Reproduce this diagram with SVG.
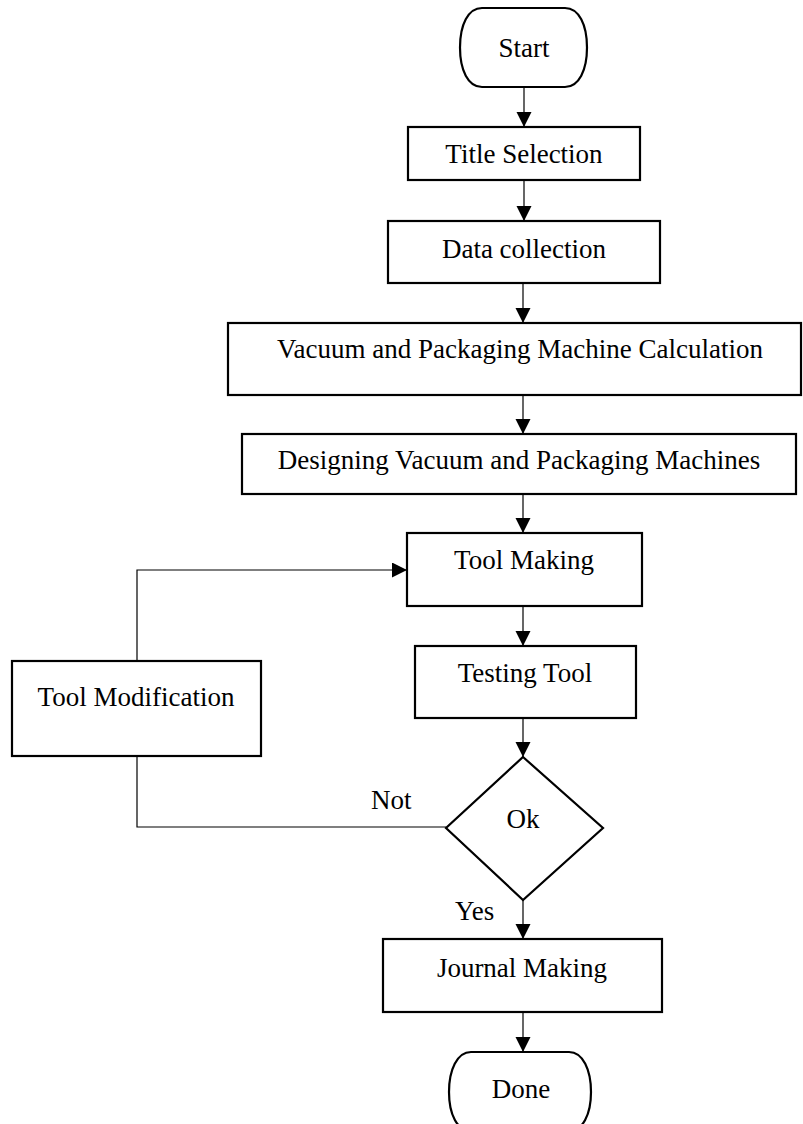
<svg xmlns="http://www.w3.org/2000/svg" width="803" height="1124" viewBox="0 0 803 1124">
<style>
.box{fill:#fff;stroke:#000;stroke-width:2.2}
.ln{fill:none;stroke:#000;stroke-width:1.2}
text{font-family:"Liberation Serif","Times New Roman",serif;font-size:27px;fill:#000;text-anchor:middle}
.lbl{text-anchor:start}
</style>
<defs>
<marker id="ah" markerUnits="userSpaceOnUse" markerWidth="16" markerHeight="16" refX="15" refY="7.5" orient="auto">
<path d="M0,0 L15,7.5 L0,15 Z" fill="#000"/>
</marker>
</defs>
<rect width="803" height="1124" fill="#fff"/>
<g id="connectors">
<line class="ln" x1="524" y1="87" x2="524" y2="127" marker-end="url(#ah)"/>
<line class="ln" x1="524" y1="180" x2="524" y2="221" marker-end="url(#ah)"/>
<line class="ln" x1="523" y1="283" x2="523" y2="323" marker-end="url(#ah)"/>
<line class="ln" x1="523" y1="395" x2="523" y2="434" marker-end="url(#ah)"/>
<line class="ln" x1="523" y1="494" x2="523" y2="533" marker-end="url(#ah)"/>
<line class="ln" x1="523" y1="606" x2="523" y2="646" marker-end="url(#ah)"/>
<line class="ln" x1="523" y1="718" x2="523" y2="757" marker-end="url(#ah)"/>
<line class="ln" x1="523" y1="900" x2="523" y2="939" marker-end="url(#ah)"/>
<line class="ln" x1="523" y1="1012" x2="523" y2="1052" marker-end="url(#ah)"/>
<polyline class="ln" points="137,661 137,570 407,570" marker-end="url(#ah)"/>
<polyline class="ln" points="137,756 137,827 446,827"/>
<text class="lbl" x="371" y="809">Not</text>
<text class="lbl" x="455" y="920">Yes</text>
</g>
<g id="start">
<path class="box" d="M482,8 H565 C579,8 587,25 587,47.5 C587,70 579,87 565,87 H482 C468,87 460,70 460,47.5 C460,25 468,8 482,8 Z"/>
<text x="524" y="57">Start</text>
</g>
<g id="title-selection">
<rect class="box" x="408" y="127" width="232" height="53"/>
<text x="524" y="163">Title Selection</text>
</g>
<g id="data-collection">
<rect class="box" x="388" y="221" width="272" height="62"/>
<text x="524" y="258">Data collection</text>
</g>
<g id="calculation">
<rect class="box" x="228" y="323" width="573" height="72"/>
<text x="520" y="358">Vacuum and Packaging Machine Calculation</text>
</g>
<g id="designing">
<rect class="box" x="242" y="434" width="554" height="60"/>
<text x="519" y="469">Designing Vacuum and Packaging Machines</text>
</g>
<g id="tool-making">
<rect class="box" x="407" y="533" width="235" height="73"/>
<text x="524" y="569">Tool Making</text>
</g>
<g id="testing-tool">
<rect class="box" x="415" y="646" width="221" height="72"/>
<text x="525" y="682">Testing Tool</text>
</g>
<g id="tool-modification">
<rect class="box" x="12" y="661" width="249" height="95"/>
<text x="136" y="706">Tool Modification</text>
</g>
<g id="ok">
<polygon class="box" points="523,757 603,828 523,900 446,828"/>
<text x="523" y="828">Ok</text>
</g>
<g id="journal-making">
<rect class="box" x="383" y="939" width="279" height="73"/>
<text x="522" y="977">Journal Making</text>
</g>
<g id="done">
<path class="box" d="M471,1052 H569 C583,1052 591,1070 591,1092 C591,1114 583,1131 569,1131 H471 C457,1131 449,1114 449,1092 C449,1070 457,1052 471,1052 Z"/>
<text x="521" y="1098">Done</text>
</g>
</svg>
